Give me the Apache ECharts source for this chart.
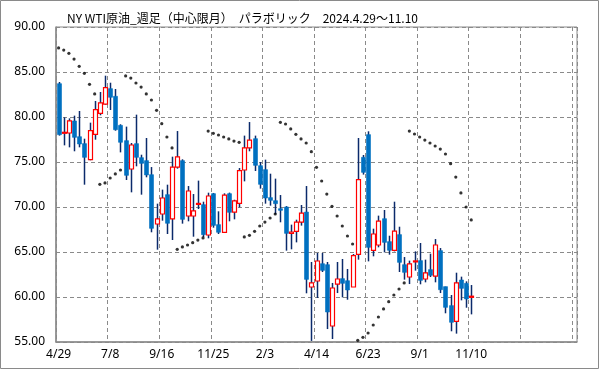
<!DOCTYPE html>
<html><head><meta charset="utf-8">
<script src="https://cdn.jsdelivr.net/npm/echarts@6/dist/echarts.min.js"></script>
<style>html,body{margin:0;padding:0;background:#fff}#c{width:599px;height:369px}</style>
</head><body><div id="c"></div>
<script>
const weeks = ['4/29','5/6','5/13','5/20','5/27','6/3','6/10','6/17','6/24','7/1',
'7/8','7/15','7/22','7/29','8/5','8/12','8/19','8/26','9/2','9/9',
'9/16','9/23','9/30','10/7','10/14','10/21','10/28','11/4','11/11','11/18',
'11/25','12/2','12/9','12/16','12/23','12/30','1/6','1/13','1/20','1/27',
'2/3','2/10','2/17','2/24','3/3','3/10','3/17','3/24','3/31','4/7',
'4/14','4/21','4/28','5/5','5/12','5/19','5/26','6/2','6/9','6/16',
'6/23','6/30','7/7','7/14','7/21','7/28','8/4','8/11','8/18','8/25',
'9/1','9/8','9/15','9/22','9/29','10/6','10/13','10/20','10/27','11/3','11/10'];
const emptySlots = 20;

const openV = [83.70,78.20,78.22,79.56,77.81,77.04,75.26,78.07,80.41,81.44,
83.15,82.30,79.07,77.37,74.22,77.04,75.48,75.15,73.59,68.11,
69.22,71.37,68.67,74.44,75.15,69.00,69.00,70.30,70.26,66.89,
71.48,68.04,67.19,71.48,69.44,70.41,74.11,76.56,77.59,74.59,
74.15,71.04,70.70,69.81,70.00,67.07,67.30,68.33,69.44,61.11,
61.78,63.70,63.59,56.78,61.44,62.04,61.81,61.11,64.74,75.52,
78.04,65.19,65.78,68.70,66.15,65.19,66.93,63.59,62.22,63.96,
64.04,62.00,63.04,62.33,65.15,61.15,59.04,57.30,61.89,61.52,59.96];
const closeV = [78.04,78.30,79.56,77.74,77.00,75.52,78.48,80.81,81.56,83.26,
82.19,78.59,77.19,73.52,76.89,75.52,74.85,73.56,67.63,68.67,
71.00,68.19,74.44,75.56,68.63,71.78,69.56,70.40,66.93,71.22,
67.96,67.19,71.33,69.41,70.67,74.04,76.56,77.44,74.63,72.52,
71.00,70.74,70.37,69.63,67.07,67.22,68.33,69.33,61.96,61.56,
64.00,62.96,58.33,61.00,62.00,61.52,60.78,64.59,73.04,73.85,
65.52,67.00,68.44,66.07,65.19,67.33,63.85,62.74,63.67,64.01,
61.85,62.67,62.41,65.78,60.81,58.85,57.19,61.56,60.96,59.78,60.09];
const lowV = [77.93,76.85,76.63,76.19,76.63,72.48,75.19,77.48,80.19,81.37,
80.78,78.48,76.07,73.00,71.63,74.52,71.37,73.30,67.19,65.26,
68.48,67.00,66.33,74.26,68.15,68.41,66.70,69.78,66.67,66.52,
67.70,67.00,67.11,68.41,68.63,69.96,72.85,76.19,74.00,72.04,
70.37,70.15,69.19,68.30,65.15,65.30,66.07,67.93,60.41,55.12,
59.89,62.78,56.44,55.33,60.44,59.96,59.70,61.11,64.15,73.60,
63.96,64.52,65.52,64.96,64.70,65.07,62.78,61.93,61.44,62.93,
61.41,61.63,62.22,61.63,60.44,58.19,56.19,55.93,59.63,58.81,58.07];
const highV = [83.89,79.96,79.85,80.15,80.67,77.59,79.37,81.78,82.78,84.59,
83.81,83.11,79.19,78.93,77.11,80.26,75.81,77.67,74.44,70.37,
71.93,72.48,75.59,78.44,75.30,72.33,71.44,72.93,70.59,71.59,
71.56,69.52,71.52,71.60,70.81,74.33,77.93,79.44,77.93,75.00,
75.26,73.70,73.15,71.33,70.10,68.04,68.59,70.22,72.33,63.89,
64.89,64.89,63.89,61.56,63.89,64.22,63.11,64.78,77.67,75.78,
78.41,67.59,69.04,69.67,66.81,70.59,67.81,64.44,64.04,65.07,
66.00,64.15,64.81,66.44,65.44,61.15,60.22,62.70,62.26,61.74,61.33];
const sarV = [87.67,87.44,87.07,86.44,85.63,84.85,83.63,82.56,72.52,72.67,
73.22,73.67,74.11,84.56,84.33,83.78,83.33,82.56,81.89,80.74,
79.26,77.78,76.56,65.30,65.56,65.78,66.04,66.33,66.56,78.44,
78.19,78.00,77.78,77.56,77.33,77.19,66.67,66.85,67.30,67.89,
68.33,68.78,69.22,79.41,79.22,78.67,78.07,77.56,77.11,76.15,
74.41,72.89,71.44,70.07,69.00,67.89,66.78,65.89,55.19,55.52,
56.00,56.89,57.78,58.67,59.48,60.22,60.89,61.56,78.44,78.11,
77.78,77.44,77.11,76.78,76.44,75.89,74.81,73.33,71.56,70.00,68.56];
const yTicks = {min: 55, max: 90, step: 5};
const titleText = 'NY WTI原油_週足（中心限月）　パラボリック　2024.4.29～11.10';

const categories = weeks.slice();
for (let k = 0; k < emptySlots; k++) categories.push('');
const candleData = weeks.map((w, i) => [i, openV[i], closeV[i], lowV[i], highV[i]]);
const sarData = weeks.map((w, i) => [i, sarV[i]]);

function renderCandle(params, api) {
  const x = api.value(0), o = api.value(1), c = api.value(2), l = api.value(3), h = api.value(4);
  const pO = api.coord([x, o]), pC = api.coord([x, c]), pL = api.coord([x, l]), pH = api.coord([x, h]);
  const w = 4;
  const cx = Math.round(pO[0]) + 0.5;
  const up = c >= o;
  const top = Math.min(pO[1], pC[1]);
  const hh = Math.max(Math.abs(pO[1] - pC[1]), 1);
  return {
    type: 'group',
    children: [
      {type: 'line', shape: {x1: cx, y1: pH[1], x2: cx, y2: pL[1]}, style: {stroke: '#0B2A6B', lineWidth: 1.5}},
      {type: 'rect', shape: {x: cx - w / 2, y: top, width: w, height: hh},
       style: up ? {fill: '#ffffff', stroke: '#FF0000', lineWidth: 1.2}
                 : {fill: '#0070C0', stroke: '#0070C0', lineWidth: 0.6}}
    ]
  };
}

const chart = echarts.init(document.getElementById('c'), null, {renderer: 'canvas'});
chart.setOption({
  animation: false,
  backgroundColor: '#ffffff',
  title: {text: titleText, left: 62, top: 7,
    textStyle: {fontSize: 12, fontWeight: 'normal', color: '#000', fontFamily: '"Noto Sans CJK JP", "Noto Sans", sans-serif'}},
  graphic: [{type: 'rect', shape: {x: 0.5, y: 0.5, width: 598, height: 368}, style: {fill: 'none', stroke: '#8a8a8a', lineWidth: 1}, silent: true}],
  grid: {left: 56, top: 27, width: 521, height: 315, show: true, borderColor: '#8a8a8a', borderWidth: 1, backgroundColor: 'transparent'},
  xAxis: {
    type: 'category', data: categories, boundaryGap: true,
    axisLine: {lineStyle: {color: '#8a8a8a', width: 1.5}},
    axisTick: {show: false},
    axisLabel: {interval: 9, color: '#000', fontSize: 12, margin: 7, fontFamily: '"Noto Sans", sans-serif'},
    splitLine: {show: true, interval: 9, lineStyle: {color: '#8a8a8a', type: [4, 3], width: 1}}
  },
  yAxis: {
    type: 'value', min: yTicks.min, max: yTicks.max, interval: yTicks.step,
    axisLine: {show: true, lineStyle: {color: '#8a8a8a', width: 1.5}},
    axisTick: {show: false},
    axisLabel: {color: '#000', fontSize: 12, margin: 11, fontFamily: '"Noto Sans", sans-serif', formatter: v => v.toFixed(2)},
    splitLine: {show: true, lineStyle: {color: '#8a8a8a', type: [4, 3], width: 1}}
  },
  series: [
    {type: 'custom', renderItem: renderCandle, data: candleData, encode: {x: 0, y: [1, 2, 3, 4]}, clip: true, z: 3},
    {type: 'scatter', data: sarData, symbol: 'circle', symbolSize: 3.2, itemStyle: {color: '#000'}, z: 4}
  ]
});
</script></body></html>
